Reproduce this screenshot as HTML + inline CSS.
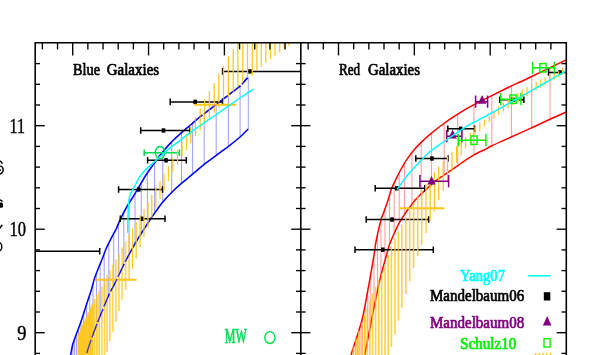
<!DOCTYPE html>
<html><head><meta charset="utf-8"><title>Stellar mass - halo mass</title>
<style>
html,body{margin:0;padding:0;background:#fff;}
body{width:606px;height:355px;overflow:hidden;font-family:"Liberation Serif",serif;}
svg{position:absolute;left:0;top:0;}
</style></head><body>
<svg width="606" height="355" viewBox="0 0 606 355" style="display:block">
<rect x="0" y="0" width="606" height="355" fill="#fff"/>
<defs><clipPath id="cl"><rect x="35.20" y="42.80" width="265.60" height="317.20"/></clipPath>
<clipPath id="cr"><rect x="300.80" y="42.80" width="265.50" height="317.20"/></clipPath></defs>
<g clip-path="url(#cl)" fill="none" stroke-linecap="butt">
<line x1="248.30" y1="77.50" x2="248.30" y2="129.00" stroke="#A4A4FF" stroke-width="1.10" />
<line x1="240.10" y1="86.00" x2="240.10" y2="137.00" stroke="#A4A4FF" stroke-width="1.10" />
<line x1="228.40" y1="95.12" x2="228.40" y2="146.37" stroke="#A4A4FF" stroke-width="1.10" />
<line x1="216.20" y1="104.53" x2="216.20" y2="155.38" stroke="#A4A4FF" stroke-width="1.10" />
<line x1="204.20" y1="113.66" x2="204.20" y2="164.40" stroke="#A4A4FF" stroke-width="1.10" />
<line x1="192.60" y1="123.20" x2="192.60" y2="174.20" stroke="#A4A4FF" stroke-width="1.10" />
<line x1="181.50" y1="132.60" x2="181.50" y2="183.38" stroke="#A4A4FF" stroke-width="1.10" />
<line x1="171.70" y1="141.90" x2="171.70" y2="192.41" stroke="#A4A4FF" stroke-width="1.10" />
<line x1="162.70" y1="152.02" x2="162.70" y2="202.09" stroke="#A4A4FF" stroke-width="1.10" />
<line x1="154.60" y1="162.86" x2="154.60" y2="213.17" stroke="#A4A4FF" stroke-width="1.10" />
<line x1="147.40" y1="172.97" x2="147.40" y2="223.79" stroke="#A4A4FF" stroke-width="1.10" />
<line x1="141.30" y1="182.89" x2="141.30" y2="233.39" stroke="#A4A4FF" stroke-width="1.10" />
<line x1="135.00" y1="193.47" x2="135.00" y2="243.74" stroke="#A4A4FF" stroke-width="1.10" />
<line x1="129.10" y1="203.00" x2="129.10" y2="254.41" stroke="#A4A4FF" stroke-width="1.10" />
<line x1="123.80" y1="212.63" x2="123.80" y2="264.61" stroke="#A4A4FF" stroke-width="1.10" />
<line x1="118.50" y1="223.56" x2="118.50" y2="275.69" stroke="#A4A4FF" stroke-width="1.10" />
<line x1="113.70" y1="233.55" x2="113.70" y2="285.62" stroke="#A4A4FF" stroke-width="1.10" />
<line x1="108.80" y1="243.26" x2="108.80" y2="295.11" stroke="#A4A4FF" stroke-width="1.10" />
<line x1="104.20" y1="253.78" x2="104.20" y2="306.17" stroke="#A4A4FF" stroke-width="1.10" />
<line x1="100.20" y1="263.78" x2="100.20" y2="315.88" stroke="#A4A4FF" stroke-width="1.10" />
<line x1="96.50" y1="273.17" x2="96.50" y2="325.27" stroke="#A4A4FF" stroke-width="1.10" />
<line x1="93.00" y1="283.97" x2="93.00" y2="334.64" stroke="#A4A4FF" stroke-width="1.10" />
<line x1="89.70" y1="294.78" x2="89.70" y2="343.98" stroke="#A4A4FF" stroke-width="1.10" />
<line x1="86.60" y1="304.18" x2="86.60" y2="353.47" stroke="#A4A4FF" stroke-width="1.10" />
<line x1="83.70" y1="313.26" x2="83.70" y2="360.00" stroke="#A4A4FF" stroke-width="1.10" />
<line x1="81.00" y1="321.50" x2="81.00" y2="360.00" stroke="#A4A4FF" stroke-width="1.10" />
<line x1="78.60" y1="328.16" x2="78.60" y2="360.00" stroke="#A4A4FF" stroke-width="1.10" />
<line x1="76.60" y1="333.42" x2="76.60" y2="360.00" stroke="#A4A4FF" stroke-width="1.10" />
<line x1="74.60" y1="339.04" x2="74.60" y2="360.00" stroke="#A4A4FF" stroke-width="1.10" />
<line x1="72.90" y1="343.95" x2="72.90" y2="360.00" stroke="#A4A4FF" stroke-width="1.10" />
<path d="M70.3,357 L72.5,345.1  C73.08,343.42 74.78,338.35 76.00,335.00 C77.22,331.65 78.77,327.83 79.80,325.00 C80.83,322.17 81.17,321.17 82.20,318.00 C83.23,314.83 84.82,309.67 86.00,306.00 C87.18,302.33 88.37,298.83 89.30,296.00 C90.23,293.17 90.68,292.08 91.60,289.00 C92.52,285.92 93.42,281.58 94.80,277.50 C96.18,273.42 98.67,267.58 99.90,264.50 C101.13,261.42 101.13,261.70 102.20,259.00 C103.27,256.30 104.52,252.30 106.30,248.30 C108.08,244.30 111.25,238.22 112.90,235.00 C114.55,231.78 114.97,231.62 116.20,229.00 C117.43,226.38 118.37,223.30 120.30,219.30 C122.23,215.30 125.90,208.38 127.80,205.00 C129.70,201.62 130.38,201.12 131.70,199.00 C133.02,196.88 134.60,194.13 135.70,192.30 C136.80,190.47 137.13,189.97 138.30,188.00 C139.47,186.03 141.53,182.50 142.70,180.50 C143.87,178.50 144.15,177.78 145.30,176.00 C146.45,174.22 147.98,172.08 149.60,169.80 C151.22,167.52 153.32,164.63 155.00,162.30 C156.68,159.97 158.15,157.85 159.70,155.80 C161.25,153.75 162.58,152.03 164.30,150.00 C166.02,147.97 168.28,145.43 170.00,143.60 C171.72,141.77 172.45,141.05 174.60,139.00 C176.75,136.95 180.03,133.82 182.90,131.30 C185.77,128.78 190.32,125.13 191.80,123.90" stroke="#0000FF" stroke-width="1.55" stroke-linejoin="round"/>
<path d="M191.80,123.90 C192.45,123.33 193.88,122.02 195.70,120.50 C197.52,118.98 199.60,117.22 202.70,114.80 C205.80,112.38 210.97,108.55 214.30,106.00 C217.63,103.45 220.22,101.42 222.70,99.50 C225.18,97.58 226.30,96.75 229.20,94.50 C232.10,92.25 237.00,88.83 240.10,86.00 C243.20,83.17 246.52,78.92 247.80,77.50" stroke="#0000FF" stroke-width="1.55" stroke-dasharray="14 2"/>
<path d="M131.70,249.50 C132.42,248.25 134.52,244.50 136.00,242.00 C137.48,239.50 139.20,236.75 140.60,234.50 C142.00,232.25 142.92,230.83 144.40,228.50 C145.88,226.17 147.90,222.92 149.50,220.50 C151.10,218.08 152.77,215.75 154.00,214.00 C155.23,212.25 155.47,211.97 156.90,210.00 C158.33,208.03 160.15,205.12 162.60,202.20 C165.05,199.28 168.42,195.67 171.60,192.50 C174.78,189.33 178.20,186.25 181.70,183.20 C185.20,180.15 188.85,177.33 192.60,174.20 C196.35,171.07 200.25,167.55 204.20,164.40 C208.15,161.25 212.25,158.32 216.30,155.30 C220.35,152.28 224.53,149.35 228.50,146.30 C232.47,143.25 236.80,139.88 240.10,137.00 C243.40,134.12 246.93,130.33 248.30,129.00" stroke="#0000FF" stroke-width="1.55"/>
<path d="M131.70,249.50 C130.82,251.17 127.75,256.92 126.40,259.50 C125.05,262.08 125.62,260.83 123.60,265.00 C121.58,269.17 116.25,280.50 114.30,284.50 C112.35,288.50 112.85,287.17 111.90,289.00 C110.95,290.83 110.83,290.33 108.60,295.50 C106.37,300.67 100.50,315.08 98.50,320.00 C96.50,324.92 97.85,321.67 96.60,325.00 C95.35,328.33 92.75,335.00 91.00,340.00 C89.25,345.00 87.07,352.17 86.10,355.00 C85.13,357.83 85.35,356.67 85.20,357.00" stroke="#0000FF" stroke-width="1.3" stroke-dasharray="14 2.5"/>
<line x1="222.60" y1="71.40" x2="302.00" y2="71.40" stroke="#000" stroke-width="1.50" />
<line x1="222.60" y1="68.10" x2="222.60" y2="74.70" stroke="#000" stroke-width="1.50" />
<rect x="248.20" y="69.20" width="3.6" height="4.4" fill="#000" stroke="none"/>
<line x1="170.20" y1="101.90" x2="222.60" y2="101.90" stroke="#000" stroke-width="1.50" />
<line x1="170.20" y1="98.60" x2="170.20" y2="105.20" stroke="#000" stroke-width="1.50" />
<line x1="222.60" y1="98.60" x2="222.60" y2="105.20" stroke="#000" stroke-width="1.50" />
<rect x="193.40" y="99.70" width="3.6" height="4.4" fill="#000" stroke="none"/>
<line x1="140.70" y1="130.50" x2="190.00" y2="130.50" stroke="#000" stroke-width="1.50" />
<line x1="140.70" y1="127.20" x2="140.70" y2="133.80" stroke="#000" stroke-width="1.50" />
<line x1="190.00" y1="127.20" x2="190.00" y2="133.80" stroke="#000" stroke-width="1.50" />
<rect x="161.70" y="128.30" width="3.6" height="4.4" fill="#000" stroke="none"/>
<line x1="147.60" y1="160.30" x2="186.30" y2="160.30" stroke="#000" stroke-width="1.50" />
<line x1="147.60" y1="157.00" x2="147.60" y2="163.60" stroke="#000" stroke-width="1.50" />
<line x1="186.30" y1="157.00" x2="186.30" y2="163.60" stroke="#000" stroke-width="1.50" />
<rect x="164.30" y="158.10" width="3.6" height="4.4" fill="#000" stroke="none"/>
<line x1="118.60" y1="189.50" x2="162.50" y2="189.50" stroke="#000" stroke-width="1.50" />
<line x1="118.60" y1="186.20" x2="118.60" y2="192.80" stroke="#000" stroke-width="1.50" />
<line x1="162.50" y1="186.20" x2="162.50" y2="192.80" stroke="#000" stroke-width="1.50" />
<rect x="136.90" y="187.30" width="3.6" height="4.4" fill="#000" stroke="none"/>
<line x1="120.30" y1="218.80" x2="165.00" y2="218.80" stroke="#000" stroke-width="1.50" />
<line x1="120.30" y1="215.50" x2="120.30" y2="222.10" stroke="#000" stroke-width="1.50" />
<line x1="165.00" y1="215.50" x2="165.00" y2="222.10" stroke="#000" stroke-width="1.50" />
<rect x="140.20" y="216.60" width="3.6" height="4.4" fill="#000" stroke="none"/>
<line x1="34.00" y1="251.30" x2="99.70" y2="251.30" stroke="#000" stroke-width="1.50" />
<line x1="99.70" y1="248.00" x2="99.70" y2="254.60" stroke="#000" stroke-width="1.50" />
<line x1="144.20" y1="152.70" x2="179.40" y2="152.70" stroke="#00DC50" stroke-width="1.50" />
<line x1="144.20" y1="149.40" x2="144.20" y2="156.00" stroke="#00DC50" stroke-width="1.50" />
<line x1="179.40" y1="149.40" x2="179.40" y2="156.00" stroke="#00DC50" stroke-width="1.50" />
<ellipse cx="160" cy="152.6" rx="4.7" ry="6.1" stroke="#00DC50" stroke-width="1.4"/>
<line x1="288.80" y1="40.00" x2="288.80" y2="45.80" stroke="#FFC61A" stroke-width="1.25" stroke-opacity="1.00"/>
<line x1="284.30" y1="40.00" x2="284.30" y2="49.20" stroke="#FFC61A" stroke-width="1.25" stroke-opacity="1.00"/>
<line x1="279.70" y1="40.00" x2="279.70" y2="52.50" stroke="#FFC61A" stroke-width="1.25" stroke-opacity="1.00"/>
<line x1="275.00" y1="40.00" x2="275.00" y2="55.80" stroke="#FFC61A" stroke-width="1.25" stroke-opacity="1.00"/>
<line x1="270.50" y1="40.00" x2="270.50" y2="59.20" stroke="#FFC61A" stroke-width="1.25" stroke-opacity="1.00"/>
<line x1="265.80" y1="40.00" x2="265.80" y2="62.50" stroke="#FFC61A" stroke-width="1.25" stroke-opacity="1.00"/>
<line x1="261.30" y1="40.00" x2="261.30" y2="66.70" stroke="#FFC61A" stroke-width="1.25" stroke-opacity="1.00"/>
<line x1="256.90" y1="40.00" x2="256.90" y2="70.90" stroke="#FFC61A" stroke-width="1.25" stroke-opacity="1.00"/>
<line x1="252.30" y1="40.00" x2="252.30" y2="75.80" stroke="#FFC61A" stroke-width="1.25" stroke-opacity="1.00"/>
<line x1="247.50" y1="40.00" x2="247.50" y2="77.80" stroke="#FFC61A" stroke-width="1.25" stroke-opacity="1.00"/>
<line x1="242.80" y1="40.00" x2="242.80" y2="83.30" stroke="#FFC61A" stroke-width="1.25" stroke-opacity="1.00"/>
<line x1="237.90" y1="40.00" x2="237.90" y2="87.20" stroke="#FFC61A" stroke-width="1.25" stroke-opacity="1.00"/>
<line x1="233.20" y1="48.82" x2="233.20" y2="92.70" stroke="#FFC61A" stroke-width="1.25" stroke-opacity="1.00"/>
<line x1="228.40" y1="56.54" x2="228.40" y2="97.00" stroke="#FFC61A" stroke-width="1.25" stroke-opacity="1.00"/>
<line x1="223.50" y1="65.90" x2="223.50" y2="103.80" stroke="#FFC61A" stroke-width="1.25" stroke-opacity="1.00"/>
<line x1="218.80" y1="73.40" x2="218.80" y2="107.52" stroke="#FFC61A" stroke-width="1.25" stroke-opacity="1.00"/>
<line x1="214.20" y1="83.00" x2="214.20" y2="112.81" stroke="#FFC61A" stroke-width="1.25" stroke-opacity="1.00"/>
<line x1="209.40" y1="91.30" x2="209.40" y2="118.30" stroke="#FFC61A" stroke-width="1.25" stroke-opacity="1.00"/>
<line x1="204.70" y1="99.40" x2="204.70" y2="122.90" stroke="#FFC61A" stroke-width="1.25" stroke-opacity="1.00"/>
<line x1="200.20" y1="108.30" x2="200.20" y2="130.30" stroke="#FFC61A" stroke-width="1.25" stroke-opacity="1.00"/>
<line x1="195.50" y1="117.10" x2="195.50" y2="136.30" stroke="#FFC61A" stroke-width="1.25" stroke-opacity="1.00"/>
<line x1="190.80" y1="125.40" x2="190.80" y2="143.20" stroke="#FFC61A" stroke-width="1.25" stroke-opacity="1.00"/>
<line x1="186.50" y1="134.29" x2="186.50" y2="149.90" stroke="#FFC61A" stroke-width="1.25" stroke-opacity="1.00"/>
<line x1="182.00" y1="141.60" x2="182.00" y2="156.80" stroke="#FFC61A" stroke-width="1.25" stroke-opacity="1.00"/>
<line x1="177.50" y1="149.90" x2="177.50" y2="164.80" stroke="#FFC61A" stroke-width="1.25" stroke-opacity="1.00"/>
<line x1="172.90" y1="158.30" x2="172.90" y2="172.20" stroke="#FFC61A" stroke-width="1.25" stroke-opacity="1.00"/>
<line x1="168.40" y1="166.20" x2="168.40" y2="180.90" stroke="#FFC61A" stroke-width="1.25" stroke-opacity="1.00"/>
<line x1="164.10" y1="173.60" x2="164.10" y2="191.06" stroke="#FFC61A" stroke-width="1.25" stroke-opacity="1.00"/>
<line x1="160.00" y1="180.90" x2="160.00" y2="198.70" stroke="#FFC61A" stroke-width="1.25" stroke-opacity="1.00"/>
<line x1="155.80" y1="187.30" x2="155.80" y2="207.65" stroke="#FFC61A" stroke-width="1.25" stroke-opacity="1.00"/>
<line x1="151.80" y1="195.01" x2="151.80" y2="217.52" stroke="#FFC61A" stroke-width="1.25" stroke-opacity="1.00"/>
<line x1="148.00" y1="202.00" x2="148.00" y2="227.50" stroke="#FFC61A" stroke-width="1.25" stroke-opacity="1.00"/>
<line x1="144.00" y1="208.90" x2="144.00" y2="237.30" stroke="#FFC61A" stroke-width="1.25" stroke-opacity="1.00"/>
<line x1="140.10" y1="214.90" x2="140.10" y2="247.25" stroke="#FFC61A" stroke-width="1.25" stroke-opacity="1.00"/>
<line x1="136.20" y1="221.96" x2="136.20" y2="258.70" stroke="#FFC61A" stroke-width="1.25" stroke-opacity="1.00"/>
<line x1="132.50" y1="228.04" x2="132.50" y2="269.00" stroke="#FFC61A" stroke-width="1.25" stroke-opacity="1.00"/>
<line x1="129.10" y1="234.40" x2="129.10" y2="279.20" stroke="#FFC61A" stroke-width="1.25" stroke-opacity="1.00"/>
<line x1="125.60" y1="241.40" x2="125.60" y2="289.70" stroke="#FFC61A" stroke-width="1.70" stroke-opacity="0.72"/>
<line x1="122.10" y1="247.30" x2="122.10" y2="299.73" stroke="#FFC61A" stroke-width="1.70" stroke-opacity="0.72"/>
<line x1="119.00" y1="253.30" x2="119.00" y2="311.04" stroke="#FFC61A" stroke-width="1.70" stroke-opacity="0.72"/>
<line x1="115.90" y1="259.20" x2="115.90" y2="321.67" stroke="#FFC61A" stroke-width="1.70" stroke-opacity="0.72"/>
<line x1="112.80" y1="264.40" x2="112.80" y2="331.95" stroke="#FFC61A" stroke-width="1.70" stroke-opacity="0.72"/>
<line x1="109.90" y1="270.00" x2="109.90" y2="341.18" stroke="#FFC61A" stroke-width="1.70" stroke-opacity="0.72"/>
<line x1="107.10" y1="274.90" x2="107.10" y2="351.70" stroke="#FFC61A" stroke-width="1.70" stroke-opacity="0.72"/>
<line x1="104.70" y1="279.80" x2="104.70" y2="359.67" stroke="#FFC61A" stroke-width="1.70" stroke-opacity="0.72"/>
<line x1="101.90" y1="286.20" x2="101.90" y2="364.35" stroke="#FFC61A" stroke-width="1.70" stroke-opacity="0.72"/>
<line x1="99.20" y1="291.20" x2="99.20" y2="367.36" stroke="#FFC61A" stroke-width="1.90" stroke-opacity="0.80"/>
<line x1="96.90" y1="294.92" x2="96.90" y2="369.94" stroke="#FFC61A" stroke-width="1.90" stroke-opacity="0.80"/>
<line x1="94.60" y1="298.88" x2="94.60" y2="372.51" stroke="#FFC61A" stroke-width="1.90" stroke-opacity="0.80"/>
<line x1="92.40" y1="303.72" x2="92.40" y2="374.96" stroke="#FFC61A" stroke-width="1.90" stroke-opacity="0.80"/>
<line x1="90.30" y1="308.34" x2="90.30" y2="377.31" stroke="#FFC61A" stroke-width="1.90" stroke-opacity="0.80"/>
<line x1="88.30" y1="312.81" x2="88.30" y2="379.55" stroke="#FFC61A" stroke-width="1.90" stroke-opacity="0.80"/>
<line x1="86.40" y1="317.07" x2="86.40" y2="381.67" stroke="#FFC61A" stroke-width="1.90" stroke-opacity="0.80"/>
<line x1="84.60" y1="321.10" x2="84.60" y2="383.68" stroke="#FFC61A" stroke-width="1.90" stroke-opacity="0.80"/>
<line x1="82.90" y1="324.84" x2="82.90" y2="385.58" stroke="#FFC61A" stroke-width="1.90" stroke-opacity="0.80"/>
<line x1="81.30" y1="328.34" x2="81.30" y2="387.37" stroke="#FFC61A" stroke-width="1.90" stroke-opacity="0.80"/>
<line x1="79.80" y1="331.57" x2="79.80" y2="389.05" stroke="#FFC61A" stroke-width="1.90" stroke-opacity="0.80"/>
<line x1="78.40" y1="334.57" x2="78.40" y2="390.61" stroke="#FFC61A" stroke-width="1.90" stroke-opacity="0.80"/>
<polygon points="78.2,335 84.2,322 90,309 93,302.5 93,357 78.2,357" fill="#FFC61A" fill-opacity="0.8" stroke="none"/>
<line x1="194.30" y1="104.80" x2="236.00" y2="104.80" stroke="#FFC61A" stroke-width="2.00" />
<line x1="95.00" y1="279.80" x2="136.70" y2="279.80" stroke="#FFC61A" stroke-width="2.00" />
<path d="M131.70,249.50 C130.82,251.17 127.75,256.92 126.40,259.50 C125.05,262.08 125.62,260.83 123.60,265.00 C121.58,269.17 116.25,280.50 114.30,284.50 C112.35,288.50 112.85,287.17 111.90,289.00 C110.95,290.83 110.83,290.33 108.60,295.50 C106.37,300.67 100.50,315.08 98.50,320.00 C96.50,324.92 97.85,321.67 96.60,325.00 C95.35,328.33 92.75,335.00 91.00,340.00 C89.25,345.00 87.07,352.17 86.10,355.00 C85.13,357.83 85.35,356.67 85.20,357.00" stroke="#0000FF" stroke-width="1.3" stroke-dasharray="14 2.5" stroke-opacity="0.7"/>
<path d="M191.80,123.90 C192.45,123.33 193.88,122.02 195.70,120.50 C197.52,118.98 199.60,117.22 202.70,114.80 C205.80,112.38 210.97,108.55 214.30,106.00 C217.63,103.45 220.22,101.42 222.70,99.50 C225.18,97.58 226.30,96.75 229.20,94.50 C232.10,92.25 237.00,88.83 240.10,86.00 C243.20,83.17 246.52,78.92 247.80,77.50" stroke="#0000FF" stroke-width="1.6" stroke-dasharray="14 2" stroke-opacity="0.35"/>
<path d="M127.70,232.70 C127.73,230.58 127.77,224.62 127.90,220.00 C128.03,215.38 128.18,209.05 128.50,205.00 C128.82,200.95 128.92,198.57 129.80,195.70 C130.68,192.83 132.15,190.93 133.80,187.80 C135.45,184.67 137.83,179.82 139.70,176.90 C141.57,173.98 142.45,172.92 145.00,170.30 C147.55,167.68 152.72,163.28 155.00,161.20 C157.28,159.12 156.75,159.53 158.70,157.80 C160.65,156.07 164.82,152.45 166.70,150.80 C168.58,149.15 167.53,149.82 170.00,147.90 C172.47,145.98 178.20,141.82 181.50,139.30 C184.80,136.78 185.93,135.62 189.80,132.80 C193.67,129.98 199.92,125.70 204.70,122.40 C209.48,119.10 213.12,116.73 218.50,113.00 C223.88,109.27 232.58,103.07 237.00,100.00 C241.42,96.93 242.22,96.43 245.00,94.60 C247.78,92.77 252.25,89.93 253.70,89.00" stroke="#00FFFF" stroke-width="1.45"/>
</g>
<g clip-path="url(#cr)" fill="none" stroke-linecap="butt">
<line x1="550.00" y1="67.69" x2="550.00" y2="119.30" stroke="#FFA0A0" stroke-width="1.10" />
<line x1="531.70" y1="76.48" x2="531.70" y2="127.81" stroke="#FFA0A0" stroke-width="1.10" />
<line x1="511.40" y1="86.01" x2="511.40" y2="136.94" stroke="#FFA0A0" stroke-width="1.10" />
<line x1="491.80" y1="95.64" x2="491.80" y2="145.85" stroke="#FFA0A0" stroke-width="1.10" />
<line x1="473.90" y1="104.65" x2="473.90" y2="154.86" stroke="#FFA0A0" stroke-width="1.10" />
<line x1="457.70" y1="114.17" x2="457.70" y2="165.73" stroke="#FFA0A0" stroke-width="1.10" />
<line x1="444.20" y1="123.30" x2="444.20" y2="174.87" stroke="#FFA0A0" stroke-width="1.10" />
<line x1="431.50" y1="133.13" x2="431.50" y2="184.61" stroke="#FFA0A0" stroke-width="1.10" />
<line x1="421.20" y1="142.53" x2="421.20" y2="193.92" stroke="#FFA0A0" stroke-width="1.10" />
<line x1="411.90" y1="152.78" x2="411.90" y2="204.46" stroke="#FFA0A0" stroke-width="1.10" />
<line x1="404.50" y1="163.38" x2="404.50" y2="214.59" stroke="#FFA0A0" stroke-width="1.10" />
<line x1="399.20" y1="172.71" x2="399.20" y2="223.02" stroke="#FFA0A0" stroke-width="1.10" />
<line x1="394.20" y1="182.98" x2="394.20" y2="233.50" stroke="#FFA0A0" stroke-width="1.10" />
<line x1="389.50" y1="195.48" x2="389.50" y2="244.53" stroke="#FFA0A0" stroke-width="1.10" />
<line x1="385.00" y1="208.85" x2="385.00" y2="260.57" stroke="#FFA0A0" stroke-width="1.10" />
<line x1="381.00" y1="219.81" x2="381.00" y2="275.35" stroke="#FFA0A0" stroke-width="1.10" />
<line x1="377.50" y1="234.50" x2="377.50" y2="290.74" stroke="#FFA0A0" stroke-width="1.10" />
<line x1="374.00" y1="254.85" x2="374.00" y2="307.56" stroke="#FFA0A0" stroke-width="1.10" />
<line x1="370.80" y1="273.89" x2="370.80" y2="323.60" stroke="#FFA0A0" stroke-width="1.10" />
<line x1="367.80" y1="290.50" x2="367.80" y2="339.06" stroke="#FFA0A0" stroke-width="1.10" />
<line x1="365.00" y1="305.75" x2="365.00" y2="353.94" stroke="#FFA0A0" stroke-width="1.10" />
<line x1="362.40" y1="318.17" x2="362.40" y2="357.00" stroke="#FFA0A0" stroke-width="1.10" />
<line x1="360.00" y1="326.86" x2="360.00" y2="360.00" stroke="#FFA0A0" stroke-width="1.10" />
<line x1="357.70" y1="334.40" x2="357.70" y2="360.00" stroke="#FFA0A0" stroke-width="1.10" />
<line x1="355.50" y1="341.00" x2="355.50" y2="360.00" stroke="#FFA0A0" stroke-width="1.10" />
<line x1="353.50" y1="347.14" x2="353.50" y2="360.00" stroke="#FFA0A0" stroke-width="1.10" />
<line x1="351.70" y1="352.80" x2="351.70" y2="360.00" stroke="#FFA0A0" stroke-width="1.10" />
<path d="M350.40,357.00 C350.50,356.67 350.32,357.17 351.00,355.00 C351.68,352.83 353.25,347.83 354.50,344.00 C355.75,340.17 357.25,336.00 358.50,332.00 C359.75,328.00 361.02,323.83 362.00,320.00 C362.98,316.17 363.60,313.00 364.40,309.00 C365.20,305.00 366.07,300.00 366.80,296.00 C367.53,292.00 368.02,289.33 368.80,285.00 C369.58,280.67 370.50,275.83 371.50,270.00 C372.50,264.17 374.15,254.17 374.80,250.00 C375.45,245.83 374.90,247.83 375.40,245.00 C375.90,242.17 376.85,237.27 377.80,233.00 C378.75,228.73 380.28,222.40 381.10,219.40 C381.92,216.40 382.12,216.57 382.70,215.00 C383.28,213.43 383.63,212.70 384.60,210.00 C385.57,207.30 387.33,202.38 388.50,198.80 C389.67,195.22 390.42,191.63 391.60,188.50 C392.78,185.37 394.62,182.08 395.60,180.00 C396.58,177.92 396.67,177.67 397.50,176.00 C398.33,174.33 399.03,172.78 400.60,170.00 C402.17,167.22 404.53,162.80 406.90,159.30 C409.27,155.80 411.92,152.30 414.80,149.00 C417.68,145.70 421.67,141.95 424.20,139.50 C426.73,137.05 426.72,136.97 430.00,134.30 C433.28,131.63 439.45,126.75 443.90,123.50 C448.35,120.25 453.18,117.12 456.70,114.80 C460.22,112.48 462.18,111.27 465.00,109.60 C467.82,107.93 466.93,108.23 473.60,104.80 C480.27,101.37 497.27,92.80 505.00,89.00 C512.73,85.20 516.67,83.55 520.00,82.00 C523.33,80.45 517.30,83.38 525.00,79.70 C532.70,76.02 559.33,63.20 566.20,59.90" stroke="#FF0000" stroke-width="1.5"/>
<path d="M364.40,357.00 C364.47,356.67 364.20,358.17 364.80,355.00 C365.40,351.83 366.88,343.83 368.00,338.00 C369.12,332.17 370.55,324.83 371.50,320.00 C372.45,315.17 372.88,313.00 373.70,309.00 C374.52,305.00 375.57,300.00 376.40,296.00 C377.23,292.00 377.80,289.00 378.70,285.00 C379.60,281.00 380.47,277.08 381.80,272.00 C383.13,266.92 385.60,258.50 386.70,254.50 C387.80,250.50 387.97,249.58 388.40,248.00 C388.83,246.42 388.28,247.53 389.30,245.00 C390.32,242.47 392.80,236.57 394.50,232.80 C396.20,229.03 397.93,225.28 399.50,222.40 C401.07,219.52 402.48,217.68 403.90,215.50 C405.32,213.32 406.73,211.05 408.00,209.30 C409.27,207.55 410.33,206.50 411.50,205.00 C412.67,203.50 413.58,201.97 415.00,200.30 C416.42,198.63 418.33,196.63 420.00,195.00 C421.67,193.37 422.38,192.87 425.00,190.50 C427.62,188.13 432.53,183.38 435.70,180.80 C438.87,178.22 441.35,176.82 444.00,175.00 C446.65,173.18 449.33,171.43 451.60,169.90 C453.87,168.37 455.28,167.42 457.60,165.80 C459.92,164.18 462.77,162.03 465.50,160.20 C468.23,158.37 471.58,156.20 474.00,154.80 C476.42,153.40 478.10,152.72 480.00,151.80 C481.90,150.88 483.42,150.30 485.40,149.30 C487.38,148.30 487.52,147.88 491.90,145.80 C496.28,143.72 505.10,139.78 511.70,136.80 C518.30,133.82 525.12,130.82 531.50,127.90 C537.88,124.98 544.22,121.95 550.00,119.30 C555.78,116.65 563.50,113.22 566.20,112.00" stroke="#FF0000" stroke-width="1.5"/>
<line x1="548.50" y1="72.40" x2="568.00" y2="72.40" stroke="#000" stroke-width="1.50" />
<line x1="548.50" y1="69.10" x2="548.50" y2="75.70" stroke="#000" stroke-width="1.50" />
<rect x="558.20" y="70.20" width="3.6" height="4.4" fill="#000" stroke="none"/>
<line x1="499.70" y1="99.80" x2="523.90" y2="99.80" stroke="#000" stroke-width="1.50" />
<line x1="499.70" y1="96.50" x2="499.70" y2="103.10" stroke="#000" stroke-width="1.50" />
<line x1="523.90" y1="96.50" x2="523.90" y2="103.10" stroke="#000" stroke-width="1.50" />
<rect x="511.20" y="97.60" width="3.6" height="4.4" fill="#000" stroke="none"/>
<line x1="447.80" y1="128.80" x2="474.60" y2="128.80" stroke="#000" stroke-width="1.50" />
<line x1="447.80" y1="125.50" x2="447.80" y2="132.10" stroke="#000" stroke-width="1.50" />
<line x1="474.60" y1="125.50" x2="474.60" y2="132.10" stroke="#000" stroke-width="1.50" />
<rect x="458.90" y="126.60" width="3.6" height="4.4" fill="#000" stroke="none"/>
<line x1="415.80" y1="158.50" x2="448.00" y2="158.50" stroke="#000" stroke-width="1.50" />
<line x1="415.80" y1="155.20" x2="415.80" y2="161.80" stroke="#000" stroke-width="1.50" />
<line x1="448.00" y1="155.20" x2="448.00" y2="161.80" stroke="#000" stroke-width="1.50" />
<rect x="430.10" y="156.30" width="3.6" height="4.4" fill="#000" stroke="none"/>
<line x1="375.20" y1="188.30" x2="424.70" y2="188.30" stroke="#000" stroke-width="1.50" />
<line x1="375.20" y1="185.00" x2="375.20" y2="191.60" stroke="#000" stroke-width="1.50" />
<line x1="424.70" y1="185.00" x2="424.70" y2="191.60" stroke="#000" stroke-width="1.50" />
<rect x="395.00" y="186.10" width="3.6" height="4.4" fill="#000" stroke="none"/>
<line x1="366.20" y1="219.50" x2="428.70" y2="219.50" stroke="#000" stroke-width="1.50" />
<line x1="366.20" y1="216.20" x2="366.20" y2="222.80" stroke="#000" stroke-width="1.50" />
<line x1="428.70" y1="216.20" x2="428.70" y2="222.80" stroke="#000" stroke-width="1.50" />
<rect x="390.20" y="217.30" width="3.6" height="4.4" fill="#000" stroke="none"/>
<line x1="355.00" y1="249.70" x2="433.30" y2="249.70" stroke="#000" stroke-width="1.50" />
<line x1="355.00" y1="246.40" x2="355.00" y2="253.00" stroke="#000" stroke-width="1.50" />
<line x1="433.30" y1="246.40" x2="433.30" y2="253.00" stroke="#000" stroke-width="1.50" />
<rect x="381.00" y="247.50" width="3.6" height="4.4" fill="#000" stroke="none"/>
<line x1="562.80" y1="67.80" x2="562.80" y2="74.80" stroke="#FFC61A" stroke-width="1.25" stroke-opacity="1.00"/>
<line x1="558.60" y1="71.30" x2="558.60" y2="77.20" stroke="#FFC61A" stroke-width="1.25" stroke-opacity="1.00"/>
<line x1="554.20" y1="73.80" x2="554.20" y2="79.70" stroke="#FFC61A" stroke-width="1.25" stroke-opacity="1.00"/>
<line x1="549.70" y1="75.20" x2="549.70" y2="81.70" stroke="#FFC61A" stroke-width="1.25" stroke-opacity="1.00"/>
<line x1="545.20" y1="77.20" x2="545.20" y2="85.00" stroke="#FFC61A" stroke-width="1.25" stroke-opacity="1.00"/>
<line x1="540.80" y1="79.20" x2="540.80" y2="87.50" stroke="#FFC61A" stroke-width="1.25" stroke-opacity="1.00"/>
<line x1="536.20" y1="82.07" x2="536.20" y2="90.18" stroke="#FFC61A" stroke-width="1.25" stroke-opacity="1.00"/>
<line x1="531.60" y1="84.80" x2="531.60" y2="93.00" stroke="#FFC61A" stroke-width="1.25" stroke-opacity="1.00"/>
<line x1="527.00" y1="87.30" x2="527.00" y2="96.00" stroke="#FFC61A" stroke-width="1.25" stroke-opacity="1.00"/>
<line x1="522.30" y1="89.85" x2="522.30" y2="98.94" stroke="#FFC61A" stroke-width="1.25" stroke-opacity="1.00"/>
<line x1="517.80" y1="92.95" x2="517.80" y2="101.83" stroke="#FFC61A" stroke-width="1.25" stroke-opacity="1.00"/>
<line x1="513.00" y1="96.50" x2="513.00" y2="105.00" stroke="#FFC61A" stroke-width="1.25" stroke-opacity="1.00"/>
<line x1="508.20" y1="100.12" x2="508.20" y2="108.13" stroke="#FFC61A" stroke-width="1.25" stroke-opacity="1.00"/>
<line x1="503.40" y1="102.70" x2="503.40" y2="111.50" stroke="#FFC61A" stroke-width="1.25" stroke-opacity="1.00"/>
<line x1="498.70" y1="106.20" x2="498.70" y2="114.80" stroke="#FFC61A" stroke-width="1.25" stroke-opacity="1.00"/>
<line x1="494.00" y1="111.00" x2="494.00" y2="118.30" stroke="#FFC61A" stroke-width="1.25" stroke-opacity="1.00"/>
<line x1="489.30" y1="115.97" x2="489.30" y2="121.89" stroke="#FFC61A" stroke-width="1.25" stroke-opacity="1.00"/>
<line x1="484.50" y1="119.40" x2="484.50" y2="126.30" stroke="#FFC61A" stroke-width="1.25" stroke-opacity="1.00"/>
<line x1="479.80" y1="122.80" x2="479.80" y2="131.20" stroke="#FFC61A" stroke-width="1.25" stroke-opacity="1.00"/>
<line x1="475.00" y1="126.80" x2="475.00" y2="134.70" stroke="#FFC61A" stroke-width="1.25" stroke-opacity="1.00"/>
<line x1="470.40" y1="132.90" x2="470.40" y2="141.50" stroke="#FFC61A" stroke-width="1.25" stroke-opacity="1.00"/>
<line x1="465.60" y1="137.30" x2="465.60" y2="148.70" stroke="#FFC61A" stroke-width="1.25" stroke-opacity="1.00"/>
<line x1="461.20" y1="141.80" x2="461.20" y2="155.50" stroke="#FFC61A" stroke-width="1.25" stroke-opacity="1.00"/>
<line x1="456.50" y1="146.20" x2="456.50" y2="163.00" stroke="#FFC61A" stroke-width="1.25" stroke-opacity="1.00"/>
<line x1="452.00" y1="151.78" x2="452.00" y2="171.51" stroke="#FFC61A" stroke-width="1.25" stroke-opacity="1.00"/>
<line x1="447.50" y1="156.30" x2="447.50" y2="181.22" stroke="#FFC61A" stroke-width="1.25" stroke-opacity="1.00"/>
<line x1="443.20" y1="161.00" x2="443.20" y2="190.70" stroke="#FFC61A" stroke-width="1.25" stroke-opacity="1.00"/>
<line x1="438.70" y1="166.40" x2="438.70" y2="200.26" stroke="#FFC61A" stroke-width="1.25" stroke-opacity="1.00"/>
<line x1="434.40" y1="172.26" x2="434.40" y2="211.48" stroke="#FFC61A" stroke-width="1.25" stroke-opacity="1.00"/>
<line x1="430.20" y1="177.74" x2="430.20" y2="221.09" stroke="#FFC61A" stroke-width="1.25" stroke-opacity="1.00"/>
<line x1="426.00" y1="184.00" x2="426.00" y2="233.06" stroke="#FFC61A" stroke-width="1.25" stroke-opacity="1.00"/>
<line x1="421.80" y1="190.21" x2="421.80" y2="244.76" stroke="#FFC61A" stroke-width="1.25" stroke-opacity="1.00"/>
<line x1="417.70" y1="195.76" x2="417.70" y2="256.14" stroke="#FFC61A" stroke-width="1.50" stroke-opacity="0.85"/>
<line x1="413.60" y1="203.43" x2="413.60" y2="268.31" stroke="#FFC61A" stroke-width="1.50" stroke-opacity="0.85"/>
<line x1="409.70" y1="209.55" x2="409.70" y2="281.04" stroke="#FFC61A" stroke-width="1.50" stroke-opacity="0.85"/>
<line x1="405.80" y1="216.82" x2="405.80" y2="294.00" stroke="#FFC61A" stroke-width="1.50" stroke-opacity="0.85"/>
<line x1="401.90" y1="224.78" x2="401.90" y2="308.06" stroke="#FFC61A" stroke-width="1.50" stroke-opacity="0.85"/>
<line x1="398.40" y1="231.51" x2="398.40" y2="320.64" stroke="#FFC61A" stroke-width="1.50" stroke-opacity="0.85"/>
<line x1="395.00" y1="238.57" x2="395.00" y2="334.00" stroke="#FFC61A" stroke-width="1.70" stroke-opacity="0.78"/>
<line x1="391.40" y1="246.22" x2="391.40" y2="347.04" stroke="#FFC61A" stroke-width="1.70" stroke-opacity="0.78"/>
<line x1="388.20" y1="255.08" x2="388.20" y2="358.30" stroke="#FFC61A" stroke-width="1.70" stroke-opacity="0.78"/>
<line x1="385.00" y1="264.77" x2="385.00" y2="370.62" stroke="#FFC61A" stroke-width="1.70" stroke-opacity="0.78"/>
<line x1="381.70" y1="273.49" x2="381.70" y2="383.41" stroke="#FFC61A" stroke-width="1.70" stroke-opacity="0.78"/>
<line x1="378.70" y1="280.04" x2="378.70" y2="390.00" stroke="#FFC61A" stroke-width="1.70" stroke-opacity="0.78"/>
<line x1="375.60" y1="286.78" x2="375.60" y2="390.00" stroke="#FFC61A" stroke-width="1.70" stroke-opacity="0.78"/>
<line x1="372.60" y1="293.19" x2="372.60" y2="390.00" stroke="#FFC61A" stroke-width="1.70" stroke-opacity="0.78"/>
<line x1="369.80" y1="300.80" x2="369.80" y2="390.00" stroke="#FFC61A" stroke-width="1.70" stroke-opacity="0.78"/>
<line x1="367.20" y1="308.56" x2="367.20" y2="390.00" stroke="#FFC61A" stroke-width="1.70" stroke-opacity="0.78"/>
<line x1="364.60" y1="315.22" x2="364.60" y2="390.00" stroke="#FFC61A" stroke-width="1.70" stroke-opacity="0.78"/>
<line x1="361.70" y1="322.74" x2="361.70" y2="390.00" stroke="#FFC61A" stroke-width="1.70" stroke-opacity="0.78"/>
<line x1="358.90" y1="331.00" x2="358.90" y2="390.00" stroke="#FFC61A" stroke-width="1.70" stroke-opacity="0.78"/>
<line x1="356.10" y1="338.80" x2="356.10" y2="390.00" stroke="#FFC61A" stroke-width="1.70" stroke-opacity="0.78"/>
<line x1="353.40" y1="346.70" x2="353.40" y2="390.00" stroke="#FFC61A" stroke-width="1.70" stroke-opacity="0.78"/>
<line x1="350.80" y1="354.58" x2="350.80" y2="390.00" stroke="#FFC61A" stroke-width="1.70" stroke-opacity="0.78"/>
<line x1="399.20" y1="208.30" x2="444.50" y2="208.30" stroke="#FFC61A" stroke-width="2.00" />
<line x1="475.60" y1="101.70" x2="487.60" y2="101.70" stroke="#800080" stroke-width="1.50" />
<line x1="475.60" y1="95.50" x2="475.60" y2="107.70" stroke="#800080" stroke-width="1.50" />
<line x1="487.60" y1="95.50" x2="487.60" y2="107.70" stroke="#800080" stroke-width="1.50" />
<polygon points="482.10,95.00 477.90,103.80 486.30,103.80" fill="#800080" stroke="none"/>
<line x1="446.80" y1="136.30" x2="461.90" y2="136.30" stroke="#800080" stroke-width="1.50" />
<line x1="446.80" y1="130.10" x2="446.80" y2="142.30" stroke="#800080" stroke-width="1.50" />
<line x1="461.90" y1="130.10" x2="461.90" y2="142.30" stroke="#800080" stroke-width="1.50" />
<polygon points="452.60,129.60 448.40,138.40 456.80,138.40" fill="#800080" stroke="none"/>
<line x1="419.90" y1="181.30" x2="448.60" y2="181.30" stroke="#800080" stroke-width="1.50" />
<line x1="419.90" y1="175.10" x2="419.90" y2="187.30" stroke="#800080" stroke-width="1.50" />
<line x1="448.60" y1="175.10" x2="448.60" y2="187.30" stroke="#800080" stroke-width="1.50" />
<polygon points="431.60,176.00 427.40,184.50 435.80,184.50" fill="#800080" stroke="none"/>
<line x1="532.60" y1="67.80" x2="554.40" y2="67.80" stroke="#00F000" stroke-width="1.40" />
<line x1="532.60" y1="61.70" x2="532.60" y2="73.90" stroke="#00F000" stroke-width="1.40" />
<line x1="554.40" y1="61.70" x2="554.40" y2="73.90" stroke="#00F000" stroke-width="1.40" />
<rect x="539.90" y="63.60" width="6.2" height="8.4" stroke="#00F000" stroke-width="1.4" fill="none"/>
<line x1="500.80" y1="99.20" x2="520.90" y2="99.20" stroke="#00F000" stroke-width="1.40" />
<line x1="500.80" y1="93.10" x2="500.80" y2="105.30" stroke="#00F000" stroke-width="1.40" />
<line x1="520.90" y1="93.10" x2="520.90" y2="105.30" stroke="#00F000" stroke-width="1.40" />
<rect x="509.90" y="95.00" width="6.2" height="8.4" stroke="#00F000" stroke-width="1.4" fill="none"/>
<line x1="458.70" y1="140.20" x2="485.90" y2="140.20" stroke="#00F000" stroke-width="1.40" />
<line x1="458.70" y1="134.10" x2="458.70" y2="146.30" stroke="#00F000" stroke-width="1.40" />
<line x1="485.90" y1="134.10" x2="485.90" y2="146.30" stroke="#00F000" stroke-width="1.40" />
<rect x="470.90" y="136.00" width="6.2" height="8.4" stroke="#00F000" stroke-width="1.4" fill="none"/>
<path d="M397.00,189.50 C397.67,188.58 399.27,186.38 401.00,184.00 C402.73,181.62 405.57,177.53 407.40,175.20 C409.23,172.87 409.78,172.40 412.00,170.00 C414.22,167.60 417.65,163.92 420.70,160.80 C423.75,157.68 426.02,154.77 430.30,151.30 C434.58,147.83 441.00,143.75 446.40,140.00 C451.80,136.25 458.00,131.80 462.70,128.80 C467.40,125.80 471.63,123.67 474.60,122.00 C477.57,120.33 477.93,120.17 480.50,118.80 C483.07,117.43 487.13,115.33 490.00,113.80 C492.87,112.27 491.87,112.85 497.70,109.60 C503.53,106.35 517.73,98.40 525.00,94.30 C532.27,90.20 534.43,88.92 541.30,85.00 C548.17,81.08 562.05,73.17 566.20,70.80" stroke="#00FFFF" stroke-width="1.45"/>
</g>
<g fill="none">
<line x1="528.30" y1="275.80" x2="550.80" y2="275.80" stroke="#00FFFF" stroke-width="1.60" />
<rect x="543.8" y="292.2" width="6.5" height="8.3" fill="#000"/>
<polygon points="547.2,316.0 542.9,325.4 551.4,325.4" fill="#800080"/>
<rect x="544.0" y="338.7" width="6.2" height="8.3" stroke="#00F000" stroke-width="1.3"/>
<line x1="535.60" y1="353.00" x2="535.60" y2="356.00" stroke="#FFC61A" stroke-width="1.60" />
<line x1="539.30" y1="353.00" x2="539.30" y2="356.00" stroke="#FFC61A" stroke-width="1.60" />
<line x1="543.00" y1="353.00" x2="543.00" y2="356.00" stroke="#FFC61A" stroke-width="1.60" />
<line x1="546.70" y1="353.00" x2="546.70" y2="356.00" stroke="#FFC61A" stroke-width="1.60" />
<line x1="550.40" y1="353.00" x2="550.40" y2="356.00" stroke="#FFC61A" stroke-width="1.60" />
<ellipse cx="269.9" cy="337.6" rx="5.1" ry="5.95" stroke="#00DC50" stroke-width="1.4"/>
</g>
<g stroke="#000" stroke-width="1.55" fill="none" stroke-linecap="butt">
<path d="M35.20,356 V42.80 H566.30 V356"/>
<path d="M300.80,42.80 V356"/>
<path d="M42.36,42.80 V49.40" stroke-width="1.35"/>
<path d="M57.53,42.80 V49.40" stroke-width="1.35"/>
<path d="M72.70,42.80 V55.40" stroke-width="1.35"/>
<path d="M87.87,42.80 V49.40" stroke-width="1.35"/>
<path d="M103.04,42.80 V49.40" stroke-width="1.35"/>
<path d="M118.21,42.80 V49.40" stroke-width="1.35"/>
<path d="M133.38,42.80 V49.40" stroke-width="1.35"/>
<path d="M148.55,42.80 V55.40" stroke-width="1.35"/>
<path d="M163.72,42.80 V49.40" stroke-width="1.35"/>
<path d="M178.89,42.80 V49.40" stroke-width="1.35"/>
<path d="M194.06,42.80 V49.40" stroke-width="1.35"/>
<path d="M209.23,42.80 V49.40" stroke-width="1.35"/>
<path d="M224.40,42.80 V55.40" stroke-width="1.35"/>
<path d="M239.57,42.80 V49.40" stroke-width="1.35"/>
<path d="M254.74,42.80 V49.40" stroke-width="1.35"/>
<path d="M269.91,42.80 V49.40" stroke-width="1.35"/>
<path d="M285.08,42.80 V49.40" stroke-width="1.35"/>
<path d="M308.16,42.80 V49.40" stroke-width="1.35"/>
<path d="M323.33,42.80 V49.40" stroke-width="1.35"/>
<path d="M338.50,42.80 V55.40" stroke-width="1.35"/>
<path d="M353.67,42.80 V49.40" stroke-width="1.35"/>
<path d="M368.84,42.80 V49.40" stroke-width="1.35"/>
<path d="M384.01,42.80 V49.40" stroke-width="1.35"/>
<path d="M399.18,42.80 V49.40" stroke-width="1.35"/>
<path d="M414.35,42.80 V55.40" stroke-width="1.35"/>
<path d="M429.52,42.80 V49.40" stroke-width="1.35"/>
<path d="M444.69,42.80 V49.40" stroke-width="1.35"/>
<path d="M459.86,42.80 V49.40" stroke-width="1.35"/>
<path d="M475.03,42.80 V49.40" stroke-width="1.35"/>
<path d="M490.20,42.80 V55.40" stroke-width="1.35"/>
<path d="M505.37,42.80 V49.40" stroke-width="1.35"/>
<path d="M520.54,42.80 V49.40" stroke-width="1.35"/>
<path d="M535.71,42.80 V49.40" stroke-width="1.35"/>
<path d="M550.88,42.80 V49.40" stroke-width="1.35"/>
<path d="M35.20,63.60 H40.00" stroke-width="1.35"/>
<path d="M296.00,63.60 H305.60" stroke-width="1.35"/>
<path d="M561.50,63.60 H566.30" stroke-width="1.35"/>
<path d="M35.20,84.30 H40.00" stroke-width="1.35"/>
<path d="M296.00,84.30 H305.60" stroke-width="1.35"/>
<path d="M561.50,84.30 H566.30" stroke-width="1.35"/>
<path d="M35.20,105.00 H40.00" stroke-width="1.35"/>
<path d="M296.00,105.00 H305.60" stroke-width="1.35"/>
<path d="M561.50,105.00 H566.30" stroke-width="1.35"/>
<path d="M35.20,125.70 H44.80" stroke-width="1.35"/>
<path d="M291.20,125.70 H310.40" stroke-width="1.35"/>
<path d="M556.70,125.70 H566.30" stroke-width="1.35"/>
<path d="M35.20,146.40 H40.00" stroke-width="1.35"/>
<path d="M296.00,146.40 H305.60" stroke-width="1.35"/>
<path d="M561.50,146.40 H566.30" stroke-width="1.35"/>
<path d="M35.20,167.10 H40.00" stroke-width="1.35"/>
<path d="M296.00,167.10 H305.60" stroke-width="1.35"/>
<path d="M561.50,167.10 H566.30" stroke-width="1.35"/>
<path d="M35.20,187.80 H40.00" stroke-width="1.35"/>
<path d="M296.00,187.80 H305.60" stroke-width="1.35"/>
<path d="M561.50,187.80 H566.30" stroke-width="1.35"/>
<path d="M35.20,208.50 H40.00" stroke-width="1.35"/>
<path d="M296.00,208.50 H305.60" stroke-width="1.35"/>
<path d="M561.50,208.50 H566.30" stroke-width="1.35"/>
<path d="M35.20,229.20 H44.80" stroke-width="1.35"/>
<path d="M291.20,229.20 H310.40" stroke-width="1.35"/>
<path d="M556.70,229.20 H566.30" stroke-width="1.35"/>
<path d="M35.20,249.90 H40.00" stroke-width="1.35"/>
<path d="M296.00,249.90 H305.60" stroke-width="1.35"/>
<path d="M561.50,249.90 H566.30" stroke-width="1.35"/>
<path d="M35.20,270.60 H40.00" stroke-width="1.35"/>
<path d="M296.00,270.60 H305.60" stroke-width="1.35"/>
<path d="M561.50,270.60 H566.30" stroke-width="1.35"/>
<path d="M35.20,291.30 H40.00" stroke-width="1.35"/>
<path d="M296.00,291.30 H305.60" stroke-width="1.35"/>
<path d="M561.50,291.30 H566.30" stroke-width="1.35"/>
<path d="M35.20,312.00 H40.00" stroke-width="1.35"/>
<path d="M296.00,312.00 H305.60" stroke-width="1.35"/>
<path d="M561.50,312.00 H566.30" stroke-width="1.35"/>
<path d="M35.20,332.70 H44.80" stroke-width="1.35"/>
<path d="M291.20,332.70 H310.40" stroke-width="1.35"/>
<path d="M556.70,332.70 H566.30" stroke-width="1.35"/>
<path d="M35.20,353.40 H40.00" stroke-width="1.35"/>
<path d="M296.00,353.40 H305.60" stroke-width="1.35"/>
<path d="M561.50,353.40 H566.30" stroke-width="1.35"/>
</g>
<g font-family="'Liberation Serif', serif" style="will-change:transform">
<text x="9.60" y="133.20" font-size="21.00" fill="#000" text-anchor="start" font-weight="normal" textLength="15.5" lengthAdjust="spacingAndGlyphs" stroke="#000" stroke-width="0.45" stroke-linejoin="round" >11</text>
<text x="9.60" y="236.00" font-size="21.00" fill="#000" text-anchor="start" font-weight="normal" textLength="16.5" lengthAdjust="spacingAndGlyphs" stroke="#000" stroke-width="0.45" stroke-linejoin="round" >10</text>
<text x="17.20" y="339.50" font-size="21.00" fill="#000" text-anchor="start" font-weight="normal" textLength="9.2" lengthAdjust="spacingAndGlyphs" stroke="#000" stroke-width="0.45" stroke-linejoin="round" >9</text>
<text x="73.00" y="75.00" font-size="16.40" fill="#000" text-anchor="start" font-weight="normal" textLength="27.0" lengthAdjust="spacingAndGlyphs" stroke="#000" stroke-width="0.7" stroke-linejoin="round" >Blue</text>
<text x="106.70" y="75.00" font-size="16.40" fill="#000" text-anchor="start" font-weight="normal" textLength="52.5" lengthAdjust="spacingAndGlyphs" stroke="#000" stroke-width="0.7" stroke-linejoin="round" >Galaxies</text>
<text x="339.00" y="75.00" font-size="16.40" fill="#000" text-anchor="start" font-weight="normal" textLength="21.2" lengthAdjust="spacingAndGlyphs" stroke="#000" stroke-width="0.7" stroke-linejoin="round" >Red</text>
<text x="368.00" y="75.00" font-size="16.40" fill="#000" text-anchor="start" font-weight="normal" textLength="52.0" lengthAdjust="spacingAndGlyphs" stroke="#000" stroke-width="0.7" stroke-linejoin="round" >Galaxies</text>
<text x="460.00" y="280.80" font-size="16.40" fill="#00FFFF" text-anchor="start" font-weight="normal" textLength="45.0" lengthAdjust="spacingAndGlyphs" stroke="#00FFFF" stroke-width="0.7" stroke-linejoin="round" >Yang07</text>
<text x="430.00" y="301.30" font-size="16.40" fill="#000" text-anchor="start" font-weight="normal" textLength="94.2" lengthAdjust="spacingAndGlyphs" stroke="#000" stroke-width="0.7" stroke-linejoin="round" >Mandelbaum06</text>
<text x="430.00" y="327.50" font-size="16.40" fill="#800080" text-anchor="start" font-weight="normal" textLength="94.2" lengthAdjust="spacingAndGlyphs" stroke="#800080" stroke-width="0.7" stroke-linejoin="round" >Mandelbaum08</text>
<text x="460.00" y="348.70" font-size="16.40" fill="#00F000" text-anchor="start" font-weight="normal" textLength="56.3" lengthAdjust="spacingAndGlyphs" stroke="#00F000" stroke-width="0.7" stroke-linejoin="round" >Schulz10</text>
<text x="224.80" y="343.10" font-size="20.20" fill="#00DC50" text-anchor="start" font-weight="normal" textLength="22.0" lengthAdjust="spacingAndGlyphs" stroke="#00DC50" stroke-width="0.7" stroke-linejoin="round" >MW</text>
</g>
<g stroke="#000" fill="none" stroke-width="1.45" stroke-linecap="round">
<path d="M-1,160.9 Q1.4,161.2 2.1,163.2"/>
<circle cx="-0.9" cy="169.9" r="4.1"/>
<circle cx="-0.2" cy="170.2" r="1.1" fill="#000" stroke="none"/>
<path d="M-1,199.9 Q1.3,200 2.0,201.2"/>
<rect x="-2" y="202.6" width="5.0" height="5.2" rx="1.6" fill="#000" stroke="none"/>
<path d="M-1,229.4 L1.9,225.3" stroke-width="1.5"/>
<ellipse cx="-1.6" cy="246.7" rx="3.4" ry="4.4" stroke-width="1.4"/>
</g>
</svg>
</body></html>
